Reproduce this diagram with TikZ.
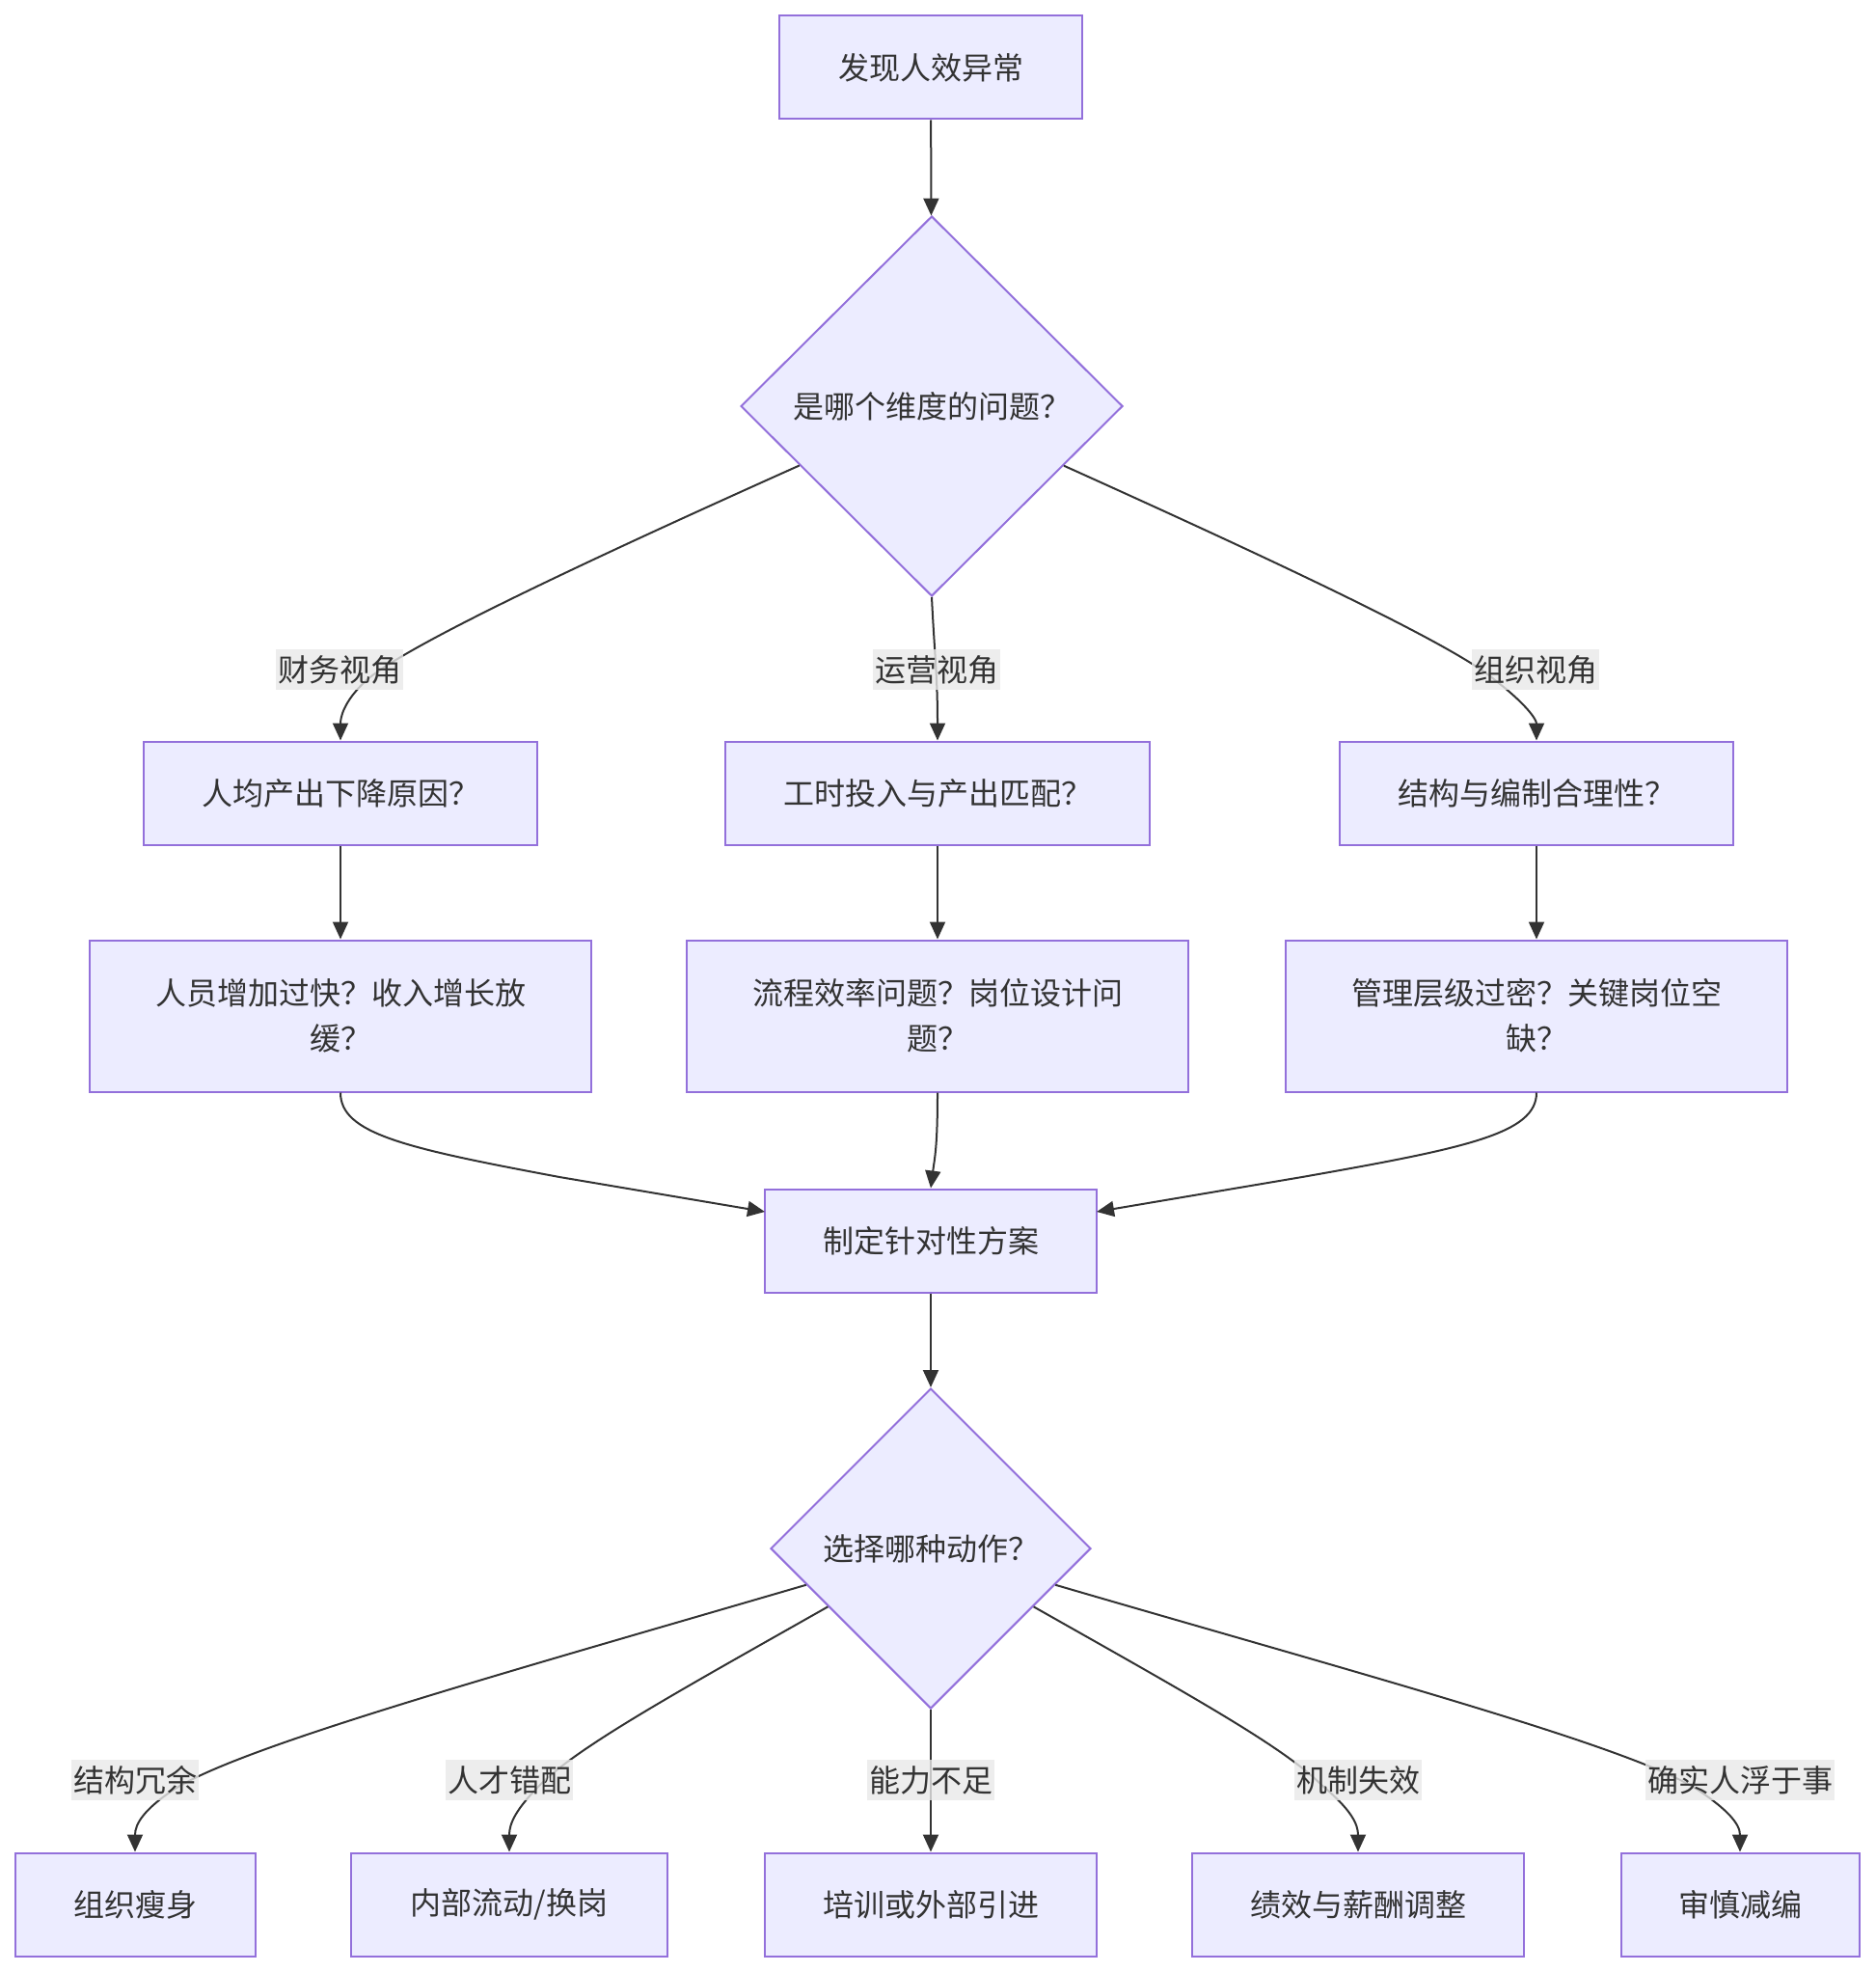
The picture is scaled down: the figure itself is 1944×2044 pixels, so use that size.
\documentclass[tikz,border=0pt]{standalone}
\usepackage{fontspec}
\setmainfont{Noto Sans CJK SC}
\usetikzlibrary{shapes.geometric,arrows.meta,calc}
\definecolor{nodefill}{HTML}{ECECFF}
\definecolor{nodeline}{HTML}{9370DB}
\definecolor{edgecol}{HTML}{333333}
\definecolor{labbg}{HTML}{E8E8E8}
\begin{document}
\begin{tikzpicture}[x=0.5pt,y=-0.5pt,
  txt/.style={text=edgecol,font=\fontsize{16pt}{23.5pt}\selectfont},
  box/.style={txt,draw=nodeline,fill=nodefill,line width=1pt,inner sep=0pt,minimum height=53.5pt,align=center},
  dec/.style={txt,diamond,draw=nodeline,fill=nodefill,line width=1pt,inner sep=0pt,aspect=1},
  lab/.style={txt,fill=labbg,fill opacity=0.8,text opacity=1,inner xsep=1pt,inner ysep=0pt,minimum height=21pt},
  conn/.style={draw=edgecol,line width=1pt,-{Triangle[length=9pt,width=8pt]}}]
\useasboundingbox (0,0) rectangle (1944,2044);
% nodes
\node[box,minimum width=157pt] (A) at (965,70) {发现人效异常};
\node[dec,minimum width=198pt,minimum height=197pt] (B) at (966,421) {是哪个维度的问题？};
\node[box,minimum width=204pt] (C1) at (353,822) {人均产出下降原因？};
\node[box,minimum width=220pt] (C2) at (972,822) {工时投入与产出匹配？};
\node[box,minimum width=204pt] (C3) at (1593,822) {结构与编制合理性？};
\node[box,minimum width=260pt,minimum height=78.5pt] (D1) at (353,1053) {人员增加过快？收入增长放\\缓？};
\node[box,minimum width=260pt,minimum height=78.5pt] (D2) at (972,1053) {流程效率问题？岗位设计问\\题？};
\node[box,minimum width=260pt,minimum height=78.5pt] (D3) at (1593,1053) {管理层级过密？关键岗位空\\缺？};
\node[box,minimum width=172pt] (E) at (965,1286) {制定针对性方案};
\node[dec,minimum width=166pt,minimum height=166pt] (F) at (965,1605) {选择哪种动作？};
\node[box,minimum width=124.5pt] (G1) at (140,1974) {组织瘦身};
\node[box,minimum width=164pt] (G2) at (528,1974) {内部流动/换岗};
\node[box,minimum width=172pt] (G3) at (965,1974) {培训或外部引进};
\node[box,minimum width=172pt] (G4) at (1408,1974) {绩效与薪酬调整};
\node[box,minimum width=123.5pt] (G5) at (1804,1974) {审慎减编};
\coordinate (Ein1) at (793,1256);
\coordinate (Ein3) at (1137,1256);
% edges
\draw[conn] (A) -- (B);
\draw[conn] (B) .. controls (600,585) and (420,670) .. (380,705) .. controls (355,728) and (353,745) .. (C1.north);
\draw[conn] (B.south) .. controls (969,680) and (972,700) .. (C2.north);
\draw[conn] (B) .. controls (1330,585) and (1510,670) .. (1550,705) .. controls (1580,728) and (1593,745) .. (C3.north);
\draw[conn] (C1) -- (D1);
\draw[conn] (C2) -- (D2);
\draw[conn] (C3) -- (D3);
\draw[conn] (D1.south) .. controls (353,1175) and (420,1190) .. (580,1220) -- (Ein1);
\draw[conn] (D2.south) .. controls (972,1190) and (969,1200) .. (E.north);
\draw[conn] (D3.south) .. controls (1593,1175) and (1520,1190) .. (1350,1220) -- (Ein3);
\draw[conn] (E) -- (F);
\draw[conn] (F) .. controls (520,1735) and (250,1810) .. (180,1855) .. controls (150,1875) and (140,1890) .. (G1.north);
\draw[conn] (F) .. controls (700,1755) and (600,1810) .. (560,1850) .. controls (535,1875) and (528,1890) .. (G2.north);
\draw[conn] (F) -- (G3);
\draw[conn] (F) .. controls (1230,1755) and (1330,1810) .. (1370,1850) .. controls (1400,1875) and (1408,1890) .. (G4.north);
\draw[conn] (F) .. controls (1410,1735) and (1690,1810) .. (1760,1855) .. controls (1790,1875) and (1804,1890) .. (G5.north);
% edge labels
\node[lab] (L1) at (352,694) {财务视角};
\node[lab] (L2) at (971,694) {运营视角};
\node[lab] (L3) at (1592,694) {组织视角};
\node[lab] (M1) at (140,1845) {结构冗余};
\node[lab] (M2) at (528,1845) {人才错配};
\node[lab] (M3) at (965,1845) {能力不足};
\node[lab] (M4) at (1408,1845) {机制失效};
\node[lab] (M5) at (1804,1845) {确实人浮于事};
\end{tikzpicture}
\end{document}
